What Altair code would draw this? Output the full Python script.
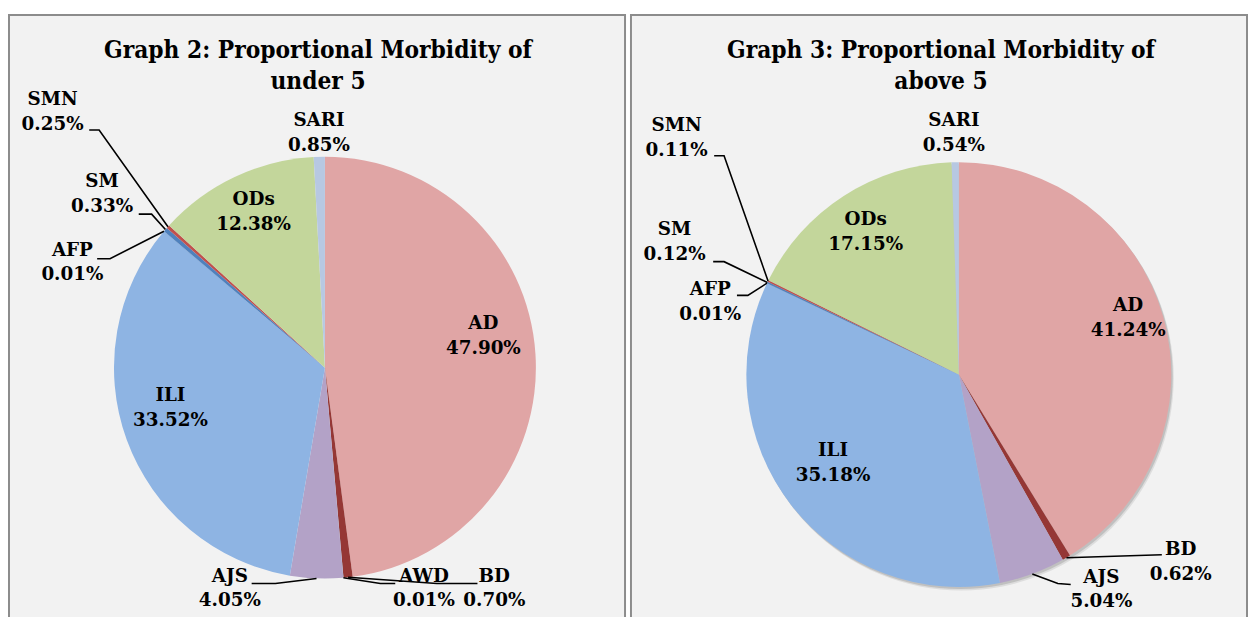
import math
import altair as alt
import pandas as pd

# ---------------- data ----------------
left_cats = ["AD", "BD", "AWD", "AJS", "ILI", "AFP", "SM", "SMN", "ODs", "SARI"]
left_vals = [47.90, 0.70, 0.01, 4.05, 33.52, 0.01, 0.33, 0.25, 12.38, 0.85]
left_title = ["Graph 2: Proportional Morbidity of", "under 5"]

right_cats = ["AD", "BD", "AJS", "ILI", "AFP", "SM", "SMN", "ODs", "SARI"]
right_vals = [41.24, 0.62, 5.04, 35.18, 0.01, 0.12, 0.11, 17.15, 0.54]
right_title = ["Graph 3: Proportional Morbidity of", "above 5"]

# ---------------- style ----------------
left_colors = {"AD": "#e0a5a5", "BD": "#953735", "AWD": "#4bacc6", "AJS": "#b3a2c7",
               "ILI": "#8eb4e3", "AFP": "#1f497d", "SM": "#4f81bd", "SMN": "#c0504d",
               "ODs": "#c3d69b", "SARI": "#b7c8e2"}
right_colors = dict(left_colors)
right_colors["ODs"] = "#abc573"

W, H = 622, 640
LABEL_FONT = "DejaVu Serif"
TITLE_FONT = "DejaVu Serif Condensed, Liberation Serif"

# layout (page pixel positions, converted to panel coordinates below)
left_layout = dict(
    origin=(8, 11), center=(327, 367), r=213, shadow=False,
    title=[(320, 47), (320, 79)],
    labels={"SMN": (52, 96), "SARI": (321, 117), "SM": (102, 179), "ODs": (255, 197),
            "AFP": (72, 248), "AD": (487, 322), "ILI": (171, 395), "AJS": (231, 577),
            "AWD": (427, 577), "BD": (498, 577)},
    leaders={"SMN": [(89, 127), (99, 127)], "SM": [(139, 212), (152, 212)],
             "AFP": [(97, 257), (110, 257)], "AJS": [(253, 585), (277, 585)],
             "AWD": [(398, 585), (383, 585)], "BD": [(481, 585), (440, 585)]},
)
right_layout = dict(
    origin=(634, 11), center=(965, 374), r=214.5, shadow=True,
    title=[(947, 47), (947, 79)],
    labels={"SMN": (680, 122), "SARI": (960, 117), "SM": (678, 227), "ODs": (871, 217),
            "AFP": (714, 288), "AD": (1136, 304), "ILI": (838, 450), "BD": (1189, 550),
            "AJS": (1109, 578)},
    leaders={"SMN": [(718, 153), (728, 153)], "SM": [(717, 260), (728, 260)],
             "AFP": [(741, 294), (752, 294)], "BD": [(1170, 556)],
             "AJS": [(1078, 586), (1065, 585)]},
)

xs = alt.Scale(domain=[0, W], range=[0, W], nice=False, zero=False)
ys = alt.Scale(domain=[0, H], range=[0, H], nice=False, zero=False)


def panel(cats, vals, title, colors, lay):
    ox, oy = lay["origin"]
    cx, cy = lay["center"][0] - ox, lay["center"][1] - oy
    r = lay["r"]
    df = pd.DataFrame({"cat": cats, "value": vals, "idx": list(range(len(cats)))})

    layers = []
    if lay["shadow"]:
        sdf = pd.DataFrame({"v": [sum(vals)]})
        for dxy, op in [((2.5, 3.5), 0.18), ((1.5, 2.0), 0.3)]:
            layers.append(alt.Chart(sdf).mark_arc(radius=r, color="#7f7f7f", opacity=op).encode(
                theta=alt.Theta("v:Q"), x=alt.value(cx + dxy[0]), y=alt.value(cy + dxy[1])))

    arcs = alt.Chart(df).mark_arc(radius=r).encode(
        theta=alt.Theta("value:Q", stack=True),
        color=alt.Color("cat:N", scale=alt.Scale(domain=cats, range=[colors[c] for c in cats]),
                        legend=None),
        order=alt.Order("idx:Q"),
        x=alt.value(cx), y=alt.value(cy),
    )
    layers.append(arcs)

    total = sum(vals)
    cum = {}
    acc = 0.0
    for c, v in zip(cats, vals):
        cum[c] = acc + v / 2
        acc += v

    rows = []
    for c, (lx, ly) in lay["labels"].items():
        v = vals[cats.index(c)]
        rows.append({"x": lx - ox, "y": ly - oy, "t": c})
        rows.append({"x": lx - ox, "y": ly - oy + 25, "t": f"{v:.2f}%"})
    labels = alt.Chart(pd.DataFrame(rows)).mark_text(
        font=LABEL_FONT, fontSize=18.5, fontWeight="bold", color="black",
        align="center", baseline="middle").encode(
        x=alt.X("x:Q", scale=xs, axis=None), y=alt.Y("y:Q", scale=ys, axis=None), text="t:N")

    lrows = []
    for c, pts in lay["leaders"].items():
        ang = 2 * math.pi * cum[c] / total
        ex, ey = cx + r * math.sin(ang), cy - r * math.cos(ang)
        allpts = [(px - ox, py - oy) for px, py in pts] + [(ex, ey)]
        for i, (px, py) in enumerate(allpts):
            lrows.append({"id": c, "seq": i, "x": px, "y": py})
    leaders = alt.Chart(pd.DataFrame(lrows)).mark_line(color="black", strokeWidth=1.6).encode(
        x=alt.X("x:Q", scale=xs, axis=None), y=alt.Y("y:Q", scale=ys, axis=None),
        detail="id:N", order="seq:Q")

    trows = [{"x": tx - ox, "y": ty - oy, "t": t} for (tx, ty), t in zip(lay["title"], title)]
    titles = alt.Chart(pd.DataFrame(trows)).mark_text(
        font=TITLE_FONT, fontSize=24.5, fontWeight="bold", color="black",
        align="center", baseline="middle").encode(
        x=alt.X("x:Q", scale=xs, axis=None), y=alt.Y("y:Q", scale=ys, axis=None), text="t:N")

    layers += [leaders, labels, titles]
    return alt.layer(*layers).properties(width=W, height=H)


chart = alt.hconcat(
    panel(left_cats, left_vals, left_title, left_colors, left_layout),
    panel(right_cats, right_vals, right_title, right_colors, right_layout),
    spacing=4,
).properties(
    padding={"left": 0, "top": 3, "right": 0, "bottom": 0},
    background="white",
).configure_view(fill="#f2f2f2", stroke="#8c8c8c", strokeWidth=2)

chart.save("out.html", embed_options={"renderer": "svg", "actions": False})
